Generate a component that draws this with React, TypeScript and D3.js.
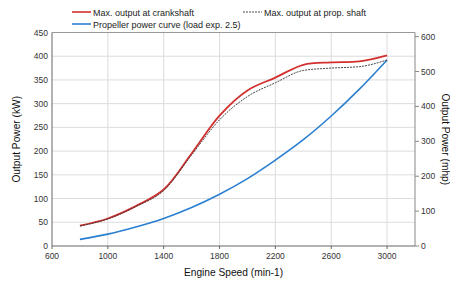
import React from "react";
import * as d3 from "d3";

const rpm = [800, 1000, 1200, 1400, 1600, 1800, 2000, 2200, 2400, 2600, 2800, 3000];
const crankshaft = [43, 58, 84, 119, 195, 275, 328, 355, 382, 387, 389, 402];
const propShaft = [42, 57, 83, 117, 192, 266, 315, 344, 370, 375, 378, 392];
const propellerCurve = [14, 25, 40, 58, 81, 109, 142, 181, 224, 274, 330, 392];
const xTicks = [600, 1000, 1400, 1800, 2200, 2600, 3000];
const yTicks = [0, 50, 100, 150, 200, 250, 300, 350, 400, 450];
const yRightTicks = [0, 100, 200, 300, 400, 500, 600];
const KW_PER_MHP = 0.7355;

export default function App() {
  const W = 450, H = 284;
  const L = 52, R = 415, T = 32.5, B = 246;
  const x = d3.scaleLinear().domain([600, 3200]).range([L, R]);
  const y = d3.scaleLinear().domain([0, 450]).range([B, T]);
  const y2 = d3.scaleLinear().domain([0, 450 / KW_PER_MHP]).range([B, T]);
  const font = "'Liberation Sans', Arial, sans-serif";

  const mk = (vals: number[], curve: any) =>
    d3.line<number>().x((_, i) => x(rpm[i])).y((v) => y(v)).curve(curve)(vals) || "";

  return (
    <svg width={W} height={H} style={{ position: "absolute", left: 0, top: 0 }} fontFamily={font}>
      <rect x={0} y={0} width={W} height={H} fill="#fff" />
      {yTicks.slice(1).map((t) => (
        <line key={"gy" + t} x1={L} x2={R} y1={y(t)} y2={y(t)} stroke="#dcdcdc" strokeWidth={1} />
      ))}
      {xTicks.slice(1).map((t) => (
        <line key={"gx" + t} x1={x(t)} x2={x(t)} y1={T} y2={B} stroke="#dcdcdc" strokeWidth={1} />
      ))}
      <line x1={L} x2={R} y1={T} y2={T} stroke="#999" />
      <line x1={R} x2={R} y1={T} y2={B} stroke="#888" />
      <line x1={L} x2={L} y1={T} y2={B} stroke="#666" />
      <line x1={L} x2={R} y1={B} y2={B} stroke="#666" />
      {xTicks.map((t) => (
        <g key={"xt" + t}>
          <line x1={x(t)} x2={x(t)} y1={B} y2={B + 3} stroke="#666" />
          <text x={x(t)} y={B + 13} fontSize={8.5} textAnchor="middle" fill="#333">{t}</text>
        </g>
      ))}
      {yTicks.map((t) => (
        <text key={"yt" + t} x={L - 4} y={y(t) + 3} fontSize={8.5} textAnchor="end" fill="#333">{t}</text>
      ))}
      {yRightTicks.map((t) => (
        <g key={"yr" + t}>
          <line x1={R} x2={R + 4} y1={y2(t)} y2={y2(t)} stroke="#888" />
          <text x={R + 6} y={y2(t) + 3} fontSize={8.5} textAnchor="start" fill="#333">{t}</text>
        </g>
      ))}
      <path d={mk(propellerCurve, d3.curveCatmullRom)} fill="none" stroke="#2a7fd0" strokeWidth={1.6} />
      <path d={mk(crankshaft, d3.curveCatmullRom)} fill="none" stroke="#d2302e" strokeWidth={1.8} />
      <path d={mk(propShaft, d3.curveMonotoneX)} fill="none" stroke="#333" strokeWidth={0.9} strokeDasharray="2,1" />
      <text x={(L + R) / 2} y={276} fontSize={10.2} textAnchor="middle" fill="#111">Engine Speed (min-1)</text>
      <text transform={`translate(20,${(T + B) / 2}) rotate(-90)`} fontSize={10.2} textAnchor="middle" fill="#111">Output Power (kW)</text>
      <text transform={`translate(442,${(T + B) / 2}) rotate(90)`} fontSize={10.2} textAnchor="middle" fill="#111">Output Power (mhp)</text>
      <line x1={72} x2={91} y1={12} y2={12} stroke="#d2302e" strokeWidth={1.6} />
      <text x={93} y={15.5} fontSize={9} fill="#222">Max. output at crankshaft</text>
      <line x1={243} x2={262} y1={12} y2={12} stroke="#333" strokeWidth={0.9} strokeDasharray="2,1" />
      <text x={264} y={15.5} fontSize={9} fill="#222">Max. output at prop. shaft</text>
      <line x1={72} x2={91} y1={24} y2={24} stroke="#2a7fd0" strokeWidth={1.6} />
      <text x={93} y={27.5} fontSize={9} fill="#222">Propeller power curve (load exp. 2.5)</text>
    </svg>
  );
}
